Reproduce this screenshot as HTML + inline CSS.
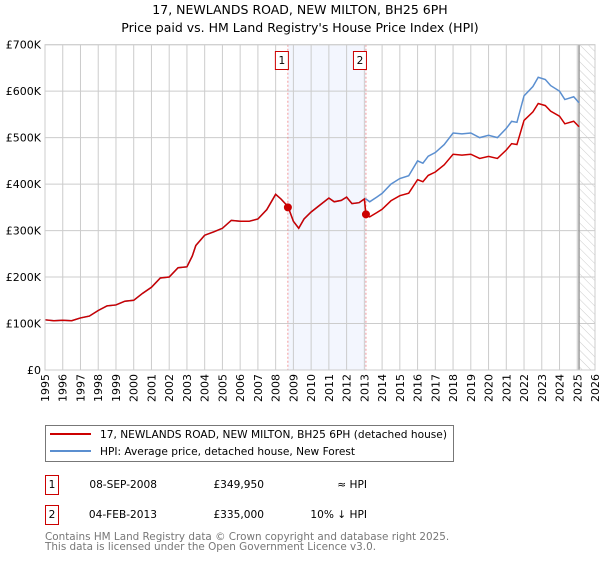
<!DOCTYPE html>
<html><head><meta charset="utf-8"><style>
body{margin:0;background:#fff;font-family:"DejaVu Sans","Liberation Sans",sans-serif;}
svg text{font-family:"DejaVu Sans","Liberation Sans",sans-serif;}
</style></head><body>
<svg id="c" width="600" height="560" xmlns="http://www.w3.org/2000/svg">
<defs><pattern id="hatch" width="6" height="6" patternUnits="userSpaceOnUse" patternTransform="rotate(-45)"><line x1="0" y1="0" x2="0" y2="6" stroke="#ccc" stroke-width="1"/></pattern></defs>
<text x="300" y="14" text-anchor="middle" font-size="12.5">17, NEWLANDS ROAD, NEW MILTON, BH25 6PH</text>
<text x="300" y="32" text-anchor="middle" font-size="12.5">Price paid vs. HM Land Registry's House Price Index (HPI)</text>
<g id="plot"></g>
<g>
<rect x="45.5" y="425.5" width="408" height="36" fill="#fff" stroke="#777"/>
<line x1="50" y1="434" x2="91" y2="434" stroke="#cc0000" stroke-width="2"/>
<text x="100" y="438" font-size="10.6">17, NEWLANDS ROAD, NEW MILTON, BH25 6PH (detached house)</text>
<line x1="50" y1="451" x2="91" y2="451" stroke="#5b8fd0" stroke-width="2"/>
<text x="100" y="455" font-size="10.6">HPI: Average price, detached house, New Forest</text>
</g>
<g font-size="10.6">
<rect x="45.5" y="475.5" width="13" height="19" fill="#fff" stroke="#cc0000"/>
<text x="52" y="488" text-anchor="middle">1</text>
<text x="157" y="488" text-anchor="end">08-SEP-2008</text>
<text x="264" y="488" text-anchor="end">£349,950</text>
<text x="367" y="488" text-anchor="end">≈ HPI</text>
<rect x="45.5" y="505.5" width="13" height="19" fill="#fff" stroke="#cc0000"/>
<text x="52" y="518" text-anchor="middle">2</text>
<text x="157" y="518" text-anchor="end">04-FEB-2013</text>
<text x="264" y="518" text-anchor="end">£335,000</text>
<text x="367" y="518" text-anchor="end">10% ↓ HPI</text>
</g>
<text x="45" y="540" font-size="10.4" fill="#777">Contains HM Land Registry data © Crown copyright and database right 2025.</text>
<text x="45" y="550" font-size="10.4" fill="#777">This data is licensed under the Open Government Licence v3.0.</text>
</svg>
<script>
const years=[1995,1995.5,1996,1996.5,1997,1997.5,1998,1998.5,1999,1999.5,2000,2000.5,2001,2001.5,2002,2002.5,2003,2003.3,2003.5,2004,2004.5,2005,2005.5,2006,2006.5,2007,2007.5,2008,2008.3,2008.69,2009,2009.3,2009.6,2010,2010.5,2011,2011.3,2011.7,2012,2012.3,2012.7,2013,2013.09,2013.3,2013.7,2014,2014.5,2015,2015.5,2016,2016.3,2016.6,2017,2017.5,2018,2018.5,2019,2019.5,2020,2020.5,2021,2021.3,2021.6,2022,2022.5,2022.8,2023.2,2023.5,2024,2024.3,2024.8,2025.1];
const hpi=[108,106,107,106,112,116,128,138,140,148,150,165,178,198,200,220,222,245,268,290,297,305,322,320,320,325,345,378,368,352,320,305,325,340,355,370,362,365,372,358,360,368,368,362,372,380,400,412,418,450,445,460,468,485,510,508,510,500,505,500,520,535,533,590,610,630,625,612,600,582,588,575];
const saleYears=[2008.69,2013.09];
const salePrices=[349.95,335];
const yTicks=[0,100,200,300,400,500,600,700];
const yLabels=['£0','£100K','£200K','£300K','£400K','£500K','£600K','£700K'];
const xTicks=[];for(let y=1995;y<=2026;y++)xTicks.push(y);
const X0=45,X1=595,Y0=370,Y1=44.7;
const sx=v=>X0+(v-1995)/(2026-1995)*(X1-X0);
const sy=v=>Y0-(v/700)*(Y0-Y1);
const g=document.getElementById('plot');const NS='http://www.w3.org/2000/svg';
function mk(t,a,p){const e=document.createElementNS(NS,t);for(const k in a)e.setAttribute(k,a[k]);(p||g).appendChild(e);return e;}
let e=mk('rect',{x:sx(saleYears[0]),y:Y1,width:sx(saleYears[1])-sx(saleYears[0]),height:Y0-Y1,fill:'#f3f6fe'});


e=mk('rect',{x:sx(2025.1),y:Y1,width:X1-sx(2025.1),height:Y0-Y1,fill:'url(#hatch)'});


xTicks.forEach(t=>{mk('line',{x1:sx(t),x2:sx(t),y1:Y1,y2:Y0,stroke:'#ccc'});
 const tx=mk('text',{x:0,y:0,'font-size':11,'text-anchor':'end',transform:`translate(${sx(t)+4},${Y0+4}) rotate(-90)`});tx.textContent=t;
 
 });
yTicks.forEach((t,i)=>{mk('line',{x1:X0,x2:X1,y1:sy(t),y2:sy(t),stroke:'#ccc'});
 const tx=mk('text',{x:X0-4,y:sy(t)+4,'font-size':11,'text-anchor':'end'});tx.textContent=yLabels[i];
 
 });
e=mk('line',{x1:sx(2025.1),x2:sx(2025.1),y1:Y1,y2:Y0,stroke:'#999','stroke-width':1.5});
saleYears.forEach((s,i)=>{const l=mk('line',{x1:sx(s),x2:sx(s),y1:Y1,y2:Y0,stroke:'#f08080','stroke-width':0.8,'stroke-dasharray':'2,2'});
 
 
 const r=mk('rect',{x:sx(s)-12.5,y:51.5,width:13,height:18,fill:'#fff',stroke:'#cc0000'});
 
 
 const tx=mk('text',{x:sx(s)-6,y:64,'font-size':10.6,'text-anchor':'middle'});tx.textContent=i+1;});
const pts=arr=>arr.map((v,i)=>sx(years[i])+','+sy(v)).join(' ');
const hpiAtSale2=hpi[years.indexOf(saleYears[1])];
const ratio=salePrices[1]/hpiAtSale2;
const red=hpi.map((v,i)=>years[i]<saleYears[1]?v:v*ratio);
const redPts=years.map((y,i)=>sx(y)+','+sy(red[i]));
redPts.splice(years.indexOf(saleYears[1])+1,0,sx(saleYears[1])+','+sy(salePrices[1]));
e=mk('polyline',{points:pts(hpi),fill:'none',stroke:'#5b8fd0','stroke-width':1.5});


e=mk('polyline',{points:redPts.join(' '),fill:'none',stroke:'#cc0000','stroke-width':1.5});


saleYears.forEach((s,i)=>{const c=mk('circle',{cx:sx(s),cy:sy(salePrices[i]),r:4,fill:'#cc0000'});
 
 });
mk('rect',{x:X0,y:Y1,width:X1-X0,height:Y0-Y1,fill:'none',stroke:'#ccc'});
</script>
</body></html>
